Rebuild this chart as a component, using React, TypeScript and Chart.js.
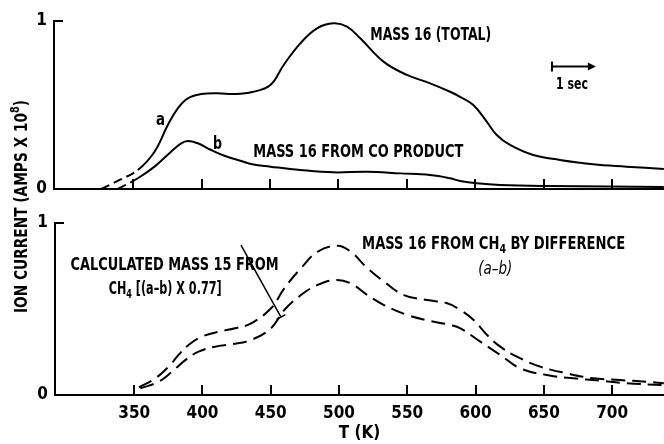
import React, { useEffect, useRef } from 'react';
import { Chart, registerables } from 'chart.js';

Chart.register(...registerables);

const FONT = '"Liberation Sans Narrow", "DejaVu Sans Condensed", "Arial Narrow", sans-serif';

// x axis (temperature, K)
const TICK_T = [350, 400, 450, 500, 550, 600, 650, 700];
const X_MIN = 292;
const X_MAX = 738;

// Top panel: curve a, MASS 16 (TOTAL)
const TOTAL_T = [326.5, 340, 353.3, 365.5, 375.2, 382.5, 389.8, 399.6, 411.7, 423.9, 437, 450.2, 459.9, 472.1, 484.3, 496.4, 506.2, 515.9, 532.9, 550, 567, 581.6, 588.9, 598.6, 608.4, 615.7, 625.4, 642.4, 661.9, 686.2, 710.6, 737.9];
const TOTAL_V = [0, 0.054, 0.113, 0.222, 0.381, 0.48, 0.54, 0.565, 0.57, 0.565, 0.577, 0.619, 0.738, 0.867, 0.956, 0.986, 0.966, 0.897, 0.758, 0.679, 0.629, 0.579, 0.549, 0.5, 0.401, 0.321, 0.262, 0.202, 0.173, 0.147, 0.133, 0.119];

// Top panel: curve b, MASS 16 FROM CO PRODUCT
const CO_T = [338.7, 353.3, 365.5, 377.6, 385, 389.8, 397.1, 406.9, 416.6, 428.8, 437, 450.2, 472.1, 496.4, 520.8, 545.1, 567, 581.6, 588.9, 601.1, 618.1, 654.6, 737.9];
const CO_V = [0, 0.064, 0.133, 0.222, 0.272, 0.286, 0.272, 0.232, 0.198, 0.167, 0.147, 0.133, 0.113, 0.099, 0.103, 0.093, 0.083, 0.064, 0.048, 0.034, 0.024, 0.018, 0.012];

// Bottom panel: MASS 16 FROM CH4 BY DIFFERENCE (a-b)
const CH4_T = [353.5, 365.5, 375.2, 382.5, 389.8, 399.6, 411.7, 423.9, 435.6, 450.2, 459.9, 472.1, 484.3, 498.9, 508.6, 520.8, 532.9, 547.5, 564.6, 579.2, 588.9, 598.6, 608.4, 618.1, 630.3, 647.3, 666.8, 686.2, 705.7, 725.2, 737.9];
const CH4_V = [0.045, 0.097, 0.165, 0.233, 0.291, 0.339, 0.368, 0.388, 0.417, 0.504, 0.62, 0.737, 0.833, 0.868, 0.833, 0.737, 0.659, 0.581, 0.552, 0.533, 0.494, 0.436, 0.349, 0.281, 0.223, 0.165, 0.126, 0.097, 0.087, 0.077, 0.068];

// Bottom panel: CALCULATED MASS 15 FROM CH4 [(a-b) x 0.77]
const M15_T = [354.5, 367.9, 377.6, 387.4, 397.1, 409.3, 421.5, 435.6, 450.2, 459.9, 472.1, 484.3, 497.6, 508.6, 520.8, 532.9, 550, 567, 581.6, 588.9, 603.5, 618.1, 632.7, 652.2, 671.6, 691.1, 710.6, 737.9];
const M15_V = [0.039, 0.077, 0.135, 0.203, 0.252, 0.281, 0.295, 0.32, 0.388, 0.494, 0.581, 0.64, 0.669, 0.649, 0.581, 0.523, 0.465, 0.43, 0.407, 0.388, 0.31, 0.233, 0.155, 0.116, 0.097, 0.083, 0.068, 0.058];

const Y_TICKS = [0, 1];

const W = 664;
const H = 444;

type Run = { t: string; sub?: boolean; sup?: boolean };

function drawRich(
  ctx: CanvasRenderingContext2D,
  runs: Run[],
  x: number,
  y: number,
  size: number,
  align: 'left' | 'center',
  targetW?: number,
  weight = 'bold',
  style = 'normal'
) {
  ctx.save();
  const f = (r: Run) => `${style} ${weight} ${r.sub || r.sup ? Math.round(size * 0.72) : size}px ${FONT}`;
  const widths = runs.map((r) => {
    ctx.font = f(r);
    return ctx.measureText(r.t).width;
  });
  const total = widths.reduce((a, b) => a + b, 0);
  const sx = targetW ? targetW / total : 1;
  ctx.translate(x, y);
  ctx.scale(sx, 1);
  let cx = align === 'center' ? -total / 2 : 0;
  ctx.textBaseline = 'middle';
  ctx.textAlign = 'left';
  ctx.fillStyle = '#000';
  runs.forEach((r, i) => {
    ctx.font = f(r);
    const dy = r.sub ? size * 0.32 : r.sup ? -size * 0.4 : 0;
    ctx.fillText(r.t, cx, dy);
    cx += widths[i];
  });
  ctx.restore();
}

function drawFrameMarks(chart: any) {
  const { ctx, chartArea } = chart;
  const xs = chart.scales.x;
  ctx.save();
  ctx.strokeStyle = '#000';
  ctx.lineWidth = 2;
  ctx.beginPath();
  TICK_T.forEach((t) => {
    const px = Math.round(xs.getPixelForValue(t));
    ctx.moveTo(px, chartArea.bottom);
    ctx.lineTo(px, chartArea.bottom - 10);
  });
  // inward tick at the top of the y axis
  ctx.moveTo(chartArea.left - 1, chartArea.top);
  ctx.lineTo(chartArea.left + 9, chartArea.top);
  ctx.stroke();
  ctx.restore();
}

const topPlugin = {
  id: 'topMarks',
  afterDraw(chart: any) {
    const { ctx } = chart;
    const xs = chart.scales.x;
    const ys = chart.scales.y;
    const P = (t: number, v: number) => [xs.getPixelForValue(t), ys.getPixelForValue(v)];
    drawFrameMarks(chart);
    let p = P(369.9, 0.411);
    drawRich(ctx, [{ t: 'a' }], p[0], p[1], 18, 'center', 9);
    p = P(411.5, 0.268);
    drawRich(ctx, [{ t: 'b' }], p[0], p[1], 18, 'center', 9);
    p = P(523.2, 0.917);
    drawRich(ctx, [{ t: 'MASS 16 (TOTAL)' }], p[0], p[1], 18, 'left', 121);
    p = P(437.7, 0.22);
    drawRich(ctx, [{ t: 'MASS 16 FROM CO PRODUCT' }], p[0], p[1], 18, 'left', 210);
    // 1 sec marker
    const a0 = P(656.1, 0.729);
    const a1 = P(688.2, 0.729);
    ctx.save();
    ctx.strokeStyle = '#000';
    ctx.fillStyle = '#000';
    ctx.lineWidth = 2;
    ctx.beginPath();
    ctx.moveTo(a0[0], a0[1] - 5);
    ctx.lineTo(a0[0], a0[1] + 5);
    ctx.moveTo(a0[0], a0[1]);
    ctx.lineTo(a1[0] - 6, a1[1]);
    ctx.stroke();
    ctx.beginPath();
    ctx.moveTo(a1[0], a1[1]);
    ctx.lineTo(a1[0] - 8, a1[1] - 4);
    ctx.lineTo(a1[0] - 8, a1[1] + 4);
    ctx.closePath();
    ctx.fill();
    ctx.restore();
    p = P(670.7, 0.619);
    drawRich(ctx, [{ t: '1 sec' }], p[0], p[1], 16, 'center', 32);
  },
};

const bottomPlugin = {
  id: 'bottomMarks',
  afterDraw(chart: any) {
    const { ctx } = chart;
    const xs = chart.scales.x;
    const ys = chart.scales.y;
    const P = (t: number, v: number) => [xs.getPixelForValue(t), ys.getPixelForValue(v)];
    drawFrameMarks(chart);
    let p = P(303.4, 0.756);
    drawRich(ctx, [{ t: 'CALCULATED MASS 15 FROM' }], p[0], p[1], 18, 'left', 208);
    p = P(331.3, 0.616);
    drawRich(ctx, [{ t: 'CH' }, { t: '4', sub: true }, { t: ' [(a\u2013b) X 0.77]' }], p[0], p[1], 18, 'left', 113);
    p = P(516.9, 0.878);
    drawRich(ctx, [{ t: 'MASS 16 FROM CH' }, { t: '4', sub: true }, { t: ' BY DIFFERENCE' }], p[0], p[1], 18, 'left', 263);
    p = P(614.4, 0.727);
    drawRich(ctx, [{ t: '(a\u2013b)' }], p[0], p[1], 17, 'center', 34, 'normal', 'italic');
    // leader line
    const l0 = P(428.2, 0.872);
    const l1 = P(457.5, 0.453);
    ctx.save();
    ctx.strokeStyle = '#000';
    ctx.lineWidth = 1.5;
    ctx.beginPath();
    ctx.moveTo(l0[0], l0[1]);
    ctx.lineTo(l1[0], l1[1]);
    const dx = l1[0] - l0[0];
    const dy = l1[1] - l0[1];
    const len = Math.hypot(dx, dy);
    const nx = -dy / len;
    const ny = dx / len;
    ctx.moveTo(l1[0] - nx * 5, l1[1] - ny * 5);
    ctx.lineTo(l1[0] + nx * 5, l1[1] + ny * 5);
    ctx.stroke();
    ctx.restore();
    // shared y axis title
    ctx.save();
    ctx.translate(23, 206.5);
    ctx.rotate(-Math.PI / 2);
    drawRich(ctx, [{ t: 'ION CURRENT (AMPS X 10' }, { t: '8', sup: true }, { t: ')' }], 0, 0, 17, 'center', 213);
    ctx.restore();
  },
};

function scaleBase(extra: any) {
  return {
    type: 'linear',
    grid: { display: true, drawOnChartArea: false, drawTicks: false },
    border: { display: true, color: '#000', width: 2 },
    ...extra,
  };
}

function makeOptions(top: boolean) {
  return {
    animation: false,
    responsive: false,
    maintainAspectRatio: false,
    layout: { padding: { top: top ? 21 : 223, left: 0, right: 0, bottom: 0 } },
    plugins: { legend: { display: false }, tooltip: { enabled: false } },
    scales: {
      x: scaleBase({
        min: X_MIN,
        max: X_MAX,
        afterBuildTicks: (s: any) => {
          s.ticks = TICK_T.map((v) => ({ value: v }));
        },
        ticks: {
          display: !top,
          color: '#000',
          padding: 8,
          font: { family: FONT, size: 17, weight: 'bold' },
        },
        title: {
          display: !top,
          text: 'T (K)',
          color: '#000',
          font: { family: FONT, size: 17, weight: 'bold' },
          padding: { top: 0, bottom: 0 },
        },
        afterFit: (s: any) => {
          s.height = top ? H - 189 : H - 395;
        },
      }),
      y: scaleBase({
        min: 0,
        max: 1,
        afterBuildTicks: (s: any) => {
          s.ticks = Y_TICKS.map((v) => ({ value: v }));
        },
        ticks: {
          color: '#000',
          padding: 7,
          font: { family: FONT, size: 17, weight: 'bold' },
        },
        afterFit: (s: any) => {
          s.width = top ? 54 : 55;
        },
      }),
    },
  };
}

function line(xs: number[], ys: number[], extra: any) {
  return {
    data: xs.map((x, i) => ({ x, y: ys[i] })),
    borderColor: '#000',
    borderWidth: 2,
    pointRadius: 0,
    fill: false,
    tension: 0.4,
    ...extra,
  };
}

export default function App() {
  const topRef = useRef<HTMLCanvasElement>(null);
  const botRef = useRef<HTMLCanvasElement>(null);

  useEffect(() => {
    document.body.style.margin = '0';
    const earlyDash = (ctx: any) => (ctx.p1.parsed.x <= 354 ? [9, 5] : undefined);
    const top = new Chart(topRef.current as HTMLCanvasElement, {
      type: 'line',
      data: {
        datasets: [
          line(TOTAL_T, TOTAL_V, { label: 'MASS 16 (TOTAL)', segment: { borderDash: earlyDash } }),
          line(CO_T, CO_V, { label: 'MASS 16 FROM CO PRODUCT', segment: { borderDash: earlyDash } }),
        ],
      },
      options: makeOptions(true) as any,
      plugins: [topPlugin],
    } as any);
    const bot = new Chart(botRef.current as HTMLCanvasElement, {
      type: 'line',
      data: {
        datasets: [
          line(CH4_T, CH4_V, { label: 'MASS 16 FROM CH4 BY DIFFERENCE', borderDash: [14, 7] }),
          line(M15_T, M15_V, { label: 'CALCULATED MASS 15 FROM CH4', borderDash: [14, 7] }),
        ],
      },
      options: makeOptions(false) as any,
      plugins: [bottomPlugin],
    } as any);
    return () => {
      top.destroy();
      bot.destroy();
    };
  }, []);

  const cs: React.CSSProperties = { position: 'absolute', left: 0, top: 0, width: W, height: H };
  return (
    <div style={{ position: 'relative', width: W, height: H, background: '#fff' }}>
      <canvas ref={topRef} width={W} height={H} style={cs} />
      <canvas ref={botRef} width={W} height={H} style={cs} />
    </div>
  );
}
